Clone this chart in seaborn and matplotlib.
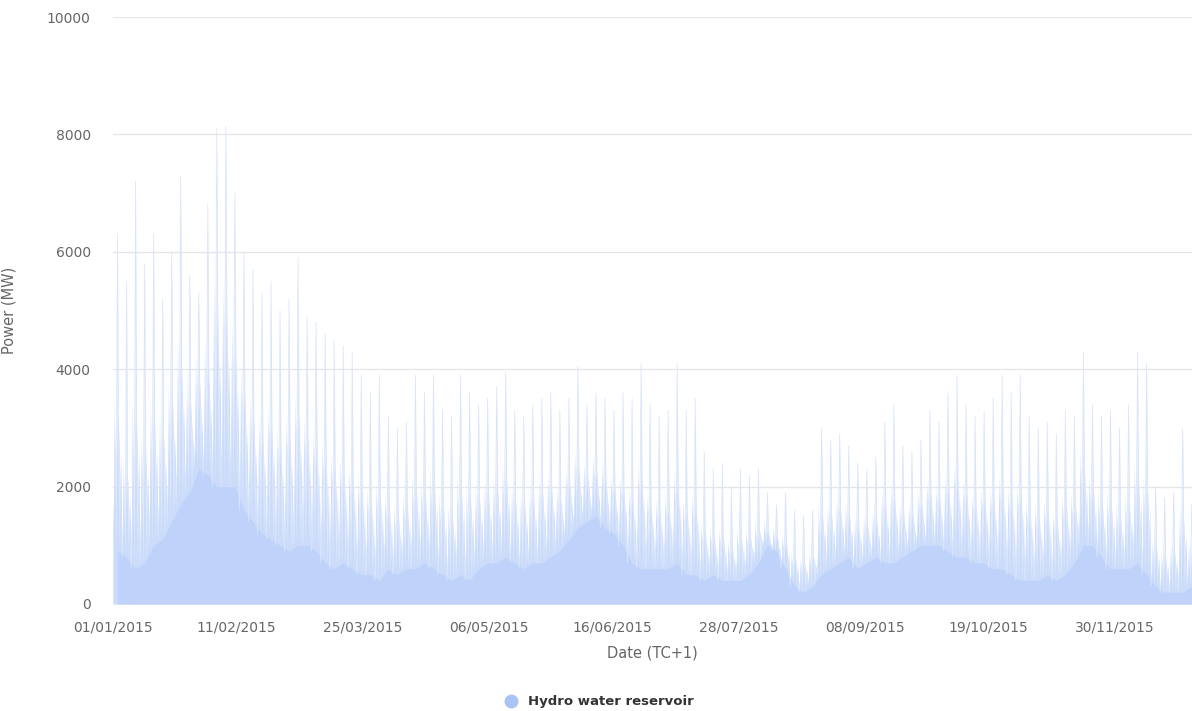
import seaborn as sns
import matplotlib.pyplot as plt
import matplotlib.dates as mdates
from matplotlib.lines import Line2D
import pandas as pd
import numpy as np

# one sample every 3 days from 01/01/2015, values in MW
start_date = "2015-01-01"
step_days = 3

# highest spikes in each 3-day window
peak_mw = [
    6300, 5500, 7200, 5800, 6300, 5200, 6000, 7300, 5600, 5300,
    6800, 8100, 8150, 7000, 6000, 5700, 5300, 5500, 5000, 5200,
    5900, 4900, 4800, 4600, 4500, 4400, 4300, 3900, 3600, 3900,
    3200, 3000, 3100, 3900, 3600, 3900, 3300, 3200, 3900, 3600,
    3400, 3500, 3700, 3950, 3300, 3200, 3400, 3500, 3600, 3300,
    3500, 4050, 3400, 3600, 3500, 3300, 3600, 3500, 4100, 3400,
    3200, 3300, 4100, 3300, 3500, 2600, 2300, 2400, 2000, 2300,
    2200, 2300, 1900, 1700, 1900, 1600, 1500, 1600, 3000, 2800,
    2900, 2700, 2400, 2300, 2500, 3100, 3400, 2700, 2600, 2800,
    3300, 3100, 3600, 3900, 3400, 3200, 3300, 3500, 3900, 3600,
    3900, 3200, 3000, 3100, 2900, 3300, 3200, 4300, 3400, 3200,
    3300, 3000, 3400, 4300, 4100, 2000, 1800, 1900, 3000, 1700,
]

# typical daily highs
mid_mw = [
    3500, 2500, 3500, 3000, 3500, 3200, 3800, 4500, 3800, 4200,
    4500, 5500, 5500, 4800, 4000, 3500, 3200, 3400, 3000, 3200,
    3600, 3200, 3000, 2800, 2600, 2500, 2400, 2200, 2000, 2100,
    1900, 1700, 1900, 2200, 2100, 2300, 1900, 1700, 2200, 2000,
    2000, 2100, 2200, 2400, 2000, 1900, 2000, 2100, 2200, 2000,
    2300, 2600, 2400, 2500, 2400, 2200, 2200, 2000, 2400, 1900,
    1800, 1900, 2300, 1800, 1900, 1400, 1300, 1300, 1100, 1300,
    1300, 1400, 1400, 1300, 1200, 900, 800, 900, 1700, 1700,
    1800, 1700, 1500, 1500, 1600, 1900, 2000, 1700, 1700, 1900,
    2100, 2000, 2200, 2400, 2100, 1900, 2000, 2000, 2200, 2000,
    2100, 1800, 1700, 1800, 1600, 1900, 1900, 2600, 2200, 1900,
    1900, 1700, 1900, 2400, 2200, 1100, 900, 1000, 1600, 1000,
]

# dense lower band
core_mw = [
    900, 800, 600, 700, 1000, 1100, 1400, 1700, 1900, 2300,
    2200, 2000, 2000, 2000, 1600, 1400, 1200, 1100, 1000, 900,
    1000, 1000, 900, 700, 600, 700, 600, 500, 500, 400,
    600, 500, 600, 600, 700, 600, 500, 400, 500, 400,
    600, 700, 700, 800, 700, 600, 700, 700, 800, 900,
    1100, 1300, 1400, 1500, 1300, 1200, 1000, 700, 600, 600,
    600, 600, 700, 500, 500, 400, 500, 400, 400, 400,
    500, 700, 1000, 900, 600, 300, 200, 300, 500, 600,
    700, 800, 600, 700, 800, 700, 700, 800, 900, 1000,
    1000, 1000, 900, 800, 800, 700, 700, 600, 600, 500,
    400, 400, 400, 500, 400, 500, 700, 1000, 1000, 800,
    600, 600, 600, 700, 500, 300, 200, 200, 200, 300,
]

tick_labels = ["01/01/2015", "11/02/2015", "25/03/2015", "06/05/2015", "16/06/2015",
               "28/07/2015", "08/09/2015", "19/10/2015", "30/11/2015"]
series_name = "Hydro water reservoir"

t0 = pd.Timestamp(start_date)


def to_date(day):
    return t0 + pd.Timedelta(days=day)


# three layers: faint peak spikes, a band of daily highs, the dense core
spike_x, spike_y = [], []
band_x, band_y = [], []
core_x, core_y = [], []
for i in range(len(peak_mw)):
    d = i * step_days
    for off, v in [(0.0, core_mw[i]), (1.2, mid_mw[i] * 0.9), (1.5, peak_mw[i]),
                   (1.8, mid_mw[i] * 0.9)]:
        spike_x.append(to_date(d + off))
        spike_y.append(v)
    for off, v in [(0.0, core_mw[i]), (0.45, mid_mw[i]), (0.9, core_mw[i]),
                   (1.5, mid_mw[i] * 0.9), (2.1, core_mw[i]), (2.55, mid_mw[i] * 0.75)]:
        band_x.append(to_date(d + off))
        band_y.append(v)
    core_x.append(to_date(d + 1.5))
    core_y.append(core_mw[i])

spikes = pd.DataFrame({"date": spike_x, "power": spike_y})
band = pd.DataFrame({"date": band_x, "power": band_y})
core = pd.DataFrame({"date": core_x, "power": core_y})

sns.set_theme(style="white")
plt.rcParams["font.family"] = ["DejaVu Sans"]

fig = plt.figure(figsize=(11.92, 7.11), dpi=100)
ax = fig.add_axes([0.0948, 0.1505, 0.9052, 0.8255])

ax.fill_between(spikes["date"], 0, spikes["power"], color="#e0eafc", linewidth=0)
sns.lineplot(data=spikes, x="date", y="power", ax=ax, color="#d8e4fb", linewidth=0.5)
ax.fill_between(band["date"], 0, band["power"], color="#cbdbfa", linewidth=0)
ax.fill_between(core["date"], 0, core["power"], color="#bfd3fa", linewidth=0)

ax.set_ylim(0, 10000)
ax.set_yticks([0, 2000, 4000, 6000, 8000, 10000])
ax.set_xlim(t0, to_date(358.6))
ax.set_xticks([pd.to_datetime(s, format="%d/%m/%Y") for s in tick_labels])
ax.xaxis.set_major_formatter(mdates.DateFormatter("%d/%m/%Y"))

ax.grid(axis="y", color="#e6e6e6", linewidth=1)
ax.grid(axis="x", visible=False)
ax.set_axisbelow(True)
for s in ["top", "right", "left", "bottom"]:
    ax.spines[s].set_visible(False)

ax.tick_params(axis="both", length=0, labelsize=10, labelcolor="#666666")
ax.tick_params(axis="x", pad=12)
ax.tick_params(axis="y", pad=16)

ax.set_xlabel("Date (TC+1)", fontsize=10.5, color="#666666", labelpad=8)
ax.set_ylabel("Power (MW)", fontsize=10.5, color="#666666", labelpad=22)

handle = Line2D([], [], marker="o", linestyle="", markersize=9,
                markerfacecolor="#a9c4f5", markeredgecolor="#a9c4f5")
leg = fig.legend([handle], [series_name], loc="center", bbox_to_anchor=(0.5, 0.013),
                 frameon=False, handletextpad=0.3,
                 prop={"size": 9.5, "weight": "bold"})
for t in leg.get_texts():
    t.set_color("#333333")

fig.savefig("out.png", dpi=100)
